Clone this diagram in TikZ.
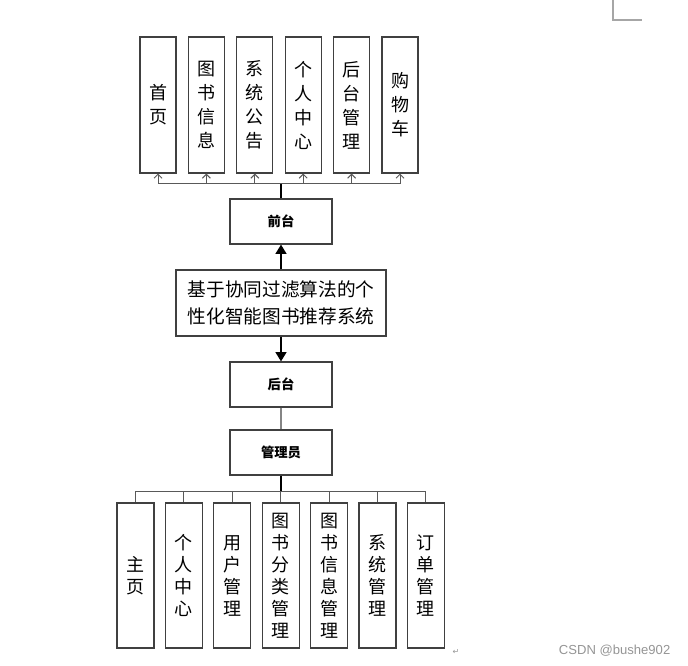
\documentclass[tikz,border=0pt]{standalone}
\usepackage{fontspec}
\setmainfont{Noto Sans CJK SC}
\newfontfamily\latinfont{Liberation Sans}
\newfontfamily\symfont{DejaVu Sans}
\usepackage{tikz}
\usetikzlibrary{arrows.meta,positioning}
\definecolor{edge}{HTML}{404040}
\definecolor{bus}{HTML}{595959}
\definecolor{mark}{HTML}{A6A6A6}

\begin{document}
\begin{tikzpicture}[x=0.75pt,y=-0.75pt,
  col/.style={draw=edge,line width=0.8pt,fill=white,minimum width=27pt,inner sep=0pt,
              align=center,font=\fontsize{13.5pt}{18pt}\selectfont},
  colb/.style={col,minimum width=27.75pt,font=\fontsize{13.5pt}{16.5pt}\selectfont},
  lab/.style={draw=edge,line width=0.8pt,fill=white,minimum width=76.5pt,minimum height=33.75pt,
              inner sep=0pt,font=\fontsize{10pt}{12pt}\selectfont\bfseries},
  sys/.style={draw=edge,line width=0.8pt,fill=white,minimum width=157.5pt,minimum height=49.5pt,
              inner sep=0pt,align=center,font=\fontsize{14pt}{20pt}\selectfont},
  thin/.style={draw=bus,line width=0.75pt},
  tip/.style={thin,-{Straight Barb[length=3pt,width=6pt]}},
  thk/.style={draw=black,line width=1.6pt},
  ar/.style={thk,-{Triangle[length=7pt,width=8pt]}}]
\useasboundingbox (0,0) rectangle (688,665);
% centre and the two sides
\node[sys] (core) at (281,303) {基于协同过滤算法的个\\性化智能图书推荐系统};
\node[lab,above=18.7pt of core] (front) {前台};
\node[lab,below=18.7pt of core] (back) {后台};
\node[lab,below=16.45pt of back] (admin) {管理员};
% front pages
\node[col,minimum height=102pt] (f1) at (158,105) {首\\页};
\node[col,minimum height=102pt,right=8.5pt of f1] (f2) {图\\书\\信\\息};
\node[col,minimum height=102pt,right=8.5pt of f2] (f3) {系\\统\\公\\告};
\node[col,minimum height=102pt,right=8.5pt of f3] (f4) {个\\人\\中\\心};
\node[col,minimum height=102pt,right=8.5pt of f4] (f5) {后\\台\\管\\理};
\node[col,minimum height=102pt,right=8.5pt of f5] (f6) {购\\物\\车};
% admin pages
\node[colb,minimum height=108.75pt] (a1) at (135.5,575.5) {主\\页};
\node[colb,minimum height=108.75pt,right=7.75pt of a1] (a2) {个\\人\\中\\心};
\node[colb,minimum height=108.75pt,right=7.75pt of a2] (a3) {用\\户\\管\\理};
\node[colb,minimum height=108.75pt,right=7.75pt of a3] (a4) {图\\书\\分\\类\\管\\理};
\node[colb,minimum height=108.75pt,right=7.75pt of a4] (a5) {图\\书\\信\\息\\管\\理};
\node[colb,minimum height=108.75pt,right=7.75pt of a5] (a6) {系\\统\\管\\理};
\node[colb,minimum height=108.75pt,right=7.75pt of a6] (a7) {订\\单\\管\\理};
\coordinate (tbus) at (281,183);
\coordinate (bbus) at (281,491);
\draw[ar](core)--(front); \draw[ar](core)--(back);
\draw[thin,line width=1.2pt,draw=mark!80!black](back)--(admin);
\draw[thk](front.north)--(tbus); \draw[thk](admin.south)--(bbus);
\draw[tip](tbus)-|(f1.south); \draw[tip](tbus)-|(f2.south); \draw[tip](tbus)-|(f3.south);
\draw[tip](tbus)-|(f4.south); \draw[tip](tbus)-|(f5.south); \draw[tip](tbus)-|(f6.south);
\draw[thin](bbus)-|(a1.north); \draw[thin](bbus)-|(a2.north); \draw[thin](bbus)-|(a3.north);
\draw[thin](bbus)-|(a4.north); \draw[thin](bbus)-|(a5.north); \draw[thin](bbus)-|(a6.north);
\draw[thin](bbus)-|(a7.north);
% page marks
\coordinate (cm) at (613,20);
\draw[draw=mark,line width=1pt] (613,0) -- (cm) -- (642,20);
\node[text=mark!90!black,font=\symfont\fontsize{6pt}{7pt}\selectfont] (ret) at (456,652) {↵};
\node[text=mark!90!black,font=\latinfont\fontsize{9.8pt}{11pt}\selectfont,anchor=east] (wm) at (675,651) {CSDN @bushe902};
\end{tikzpicture}
\end{document}
